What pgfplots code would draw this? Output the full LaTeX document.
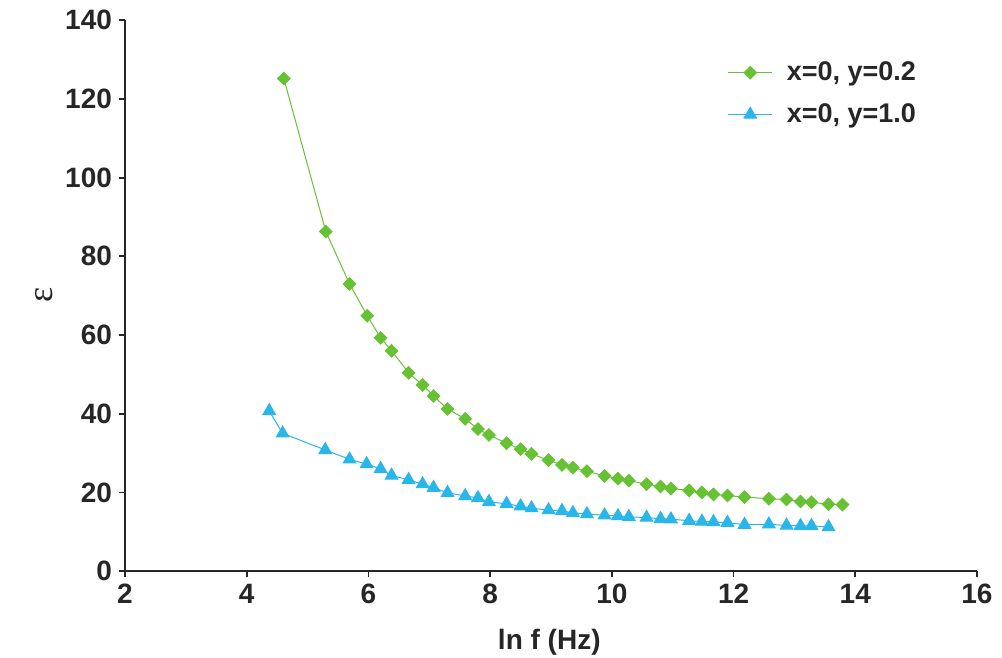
\documentclass[border=0pt]{standalone}
\usepackage{fontspec}
\setmainfont{Liberation Sans}
\newfontfamily\serifeps{Liberation Serif}
\usepackage{pgfplots}
\pgfplotsset{compat=1.18}

\definecolor{lgreen}{RGB}{102,194,51}
\definecolor{lblue}{RGB}{41,182,232}

\pgfplotstableread{
x y
4.61 125.2
5.30 86.3
5.69 73.0
5.98 64.9
6.20 59.3
6.38 56.0
6.66 50.4
6.89 47.3
7.07 44.5
7.30 41.2
7.59 38.7
7.80 36.1
7.98 34.6
8.27 32.5
8.50 31.0
8.68 29.8
8.96 28.2
9.18 27.0
9.36 26.3
9.59 25.4
9.88 24.2
10.10 23.5
10.28 23.0
10.57 22.1
10.80 21.5
10.97 21.0
11.27 20.5
11.48 20.0
11.67 19.5
11.90 19.2
12.18 18.8
12.58 18.4
12.87 18.2
13.10 17.7
13.28 17.5
13.56 17.0
13.79 16.9
}\greendata

\pgfplotstableread{
x y
4.37 40.7
4.59 35.0
5.29 30.8
5.69 28.4
5.97 27.2
6.20 26.0
6.38 24.3
6.66 23.2
6.89 22.1
7.07 21.2
7.30 19.9
7.59 19.1
7.80 18.6
7.98 17.6
8.27 17.1
8.50 16.5
8.68 16.0
8.96 15.5
9.18 15.3
9.36 14.8
9.59 14.5
9.88 14.2
10.10 14.0
10.28 13.8
10.57 13.6
10.80 13.3
10.97 13.2
11.27 12.8
11.48 12.6
11.67 12.5
11.90 12.3
12.18 11.8
12.58 11.9
12.87 11.6
13.10 11.5
13.28 11.5
13.56 11.2
}\bluedata

\begin{document}
\begin{tikzpicture}
\begin{axis}[
  scale only axis,
  width=426pt, height=275.4pt,
  xmin=2, xmax=16, ymin=0, ymax=140,
  xtick={2,4,...,16}, ytick={0,20,...,140},
  axis lines*=left,
  axis line style={line width=0.9pt, color=black!85},
  tick style={line width=0.9pt, color=black!85},
  tick align=outside,
  major tick length=3pt,
  /pgf/number format/assume math mode=true,
  ticklabel style={font=\fontsize{14}{16}\selectfont\bfseries, text=black!85},
  xlabel={ln f (Hz)},
  xlabel style={font=\fontsize{14}{16}\selectfont\bfseries, text=black!85,
    at={(axis description cs:0.498,-0.129)}, anchor=center},
  ylabel={\serifeps ε},
  ylabel style={font=\fontsize{18}{20}\selectfont, text=black!85,
    at={(axis description cs:-0.095,0.501)}, anchor=center},
  legend style={draw=none, fill=none,
    at={(axis description cs:0.70,0.94)}, anchor=north west,
    font=\fontsize{13.5}{15}\selectfont\bfseries, text=black!85,
    row sep=6pt,
    nodes={inner xsep=7pt}},
  legend cell align=left,
  legend image code/.code={%
    \draw[mark repeat=2,mark phase=2,#1]
      plot coordinates {(0pt,0pt) (11pt,0pt) (22pt,0pt)};},
]
\coordinate (sw) at (rel axis cs:0,0);
\coordinate (ne) at (rel axis cs:1,1);
\addplot[color=lgreen, line width=0.5pt, mark=square*,
  mark size=2.2pt, mark options={fill=lgreen, draw=lgreen, rotate=45}]
  table[x=x,y=y] {\greendata};
\addlegendentry{x=0, y=0.2}
\addplot[color=lblue, line width=0.5pt, mark=triangle*,
  mark size=3.6pt, mark options={fill=lblue, draw=lblue}]
  table[x=x,y=y] {\bluedata};
\addlegendentry{x=0, y=1.0}
\end{axis}
\pgfresetboundingbox
\path[use as bounding box] ([shift={(-62.5pt,-43pt)}]sw) rectangle ([shift={(12.5pt,10.15pt)}]ne);
\end{tikzpicture}
\end{document}
